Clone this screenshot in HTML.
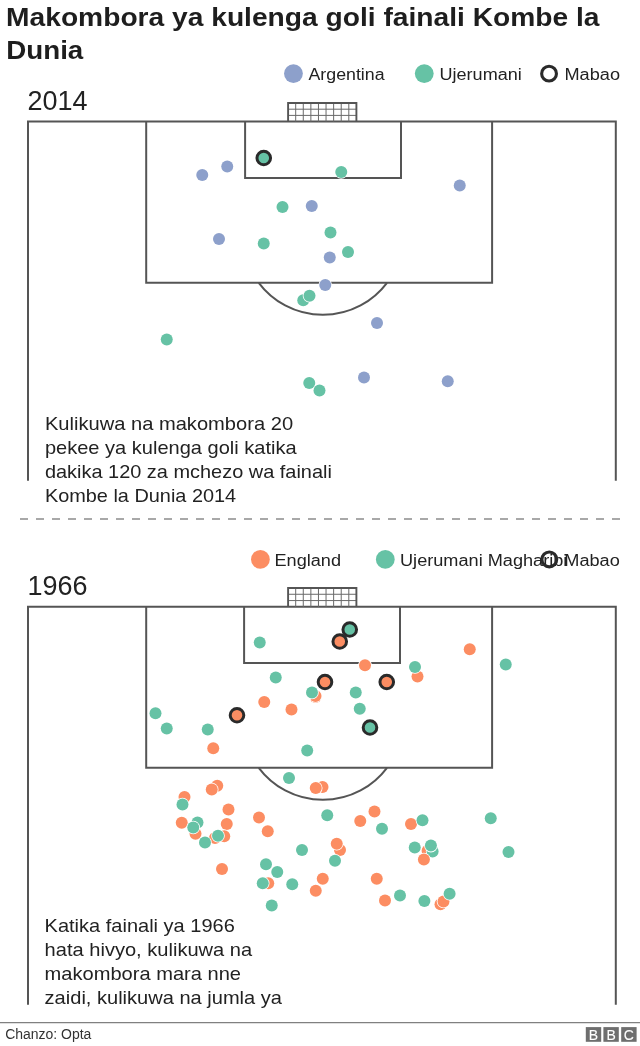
<!DOCTYPE html>
<html lang="sw"><head><meta charset="utf-8"><title>Makombora ya kulenga goli fainali Kombe la Dunia</title>
<style>
html,body{margin:0;padding:0;background:#fff}
svg{display:block}
text{font-family:"Liberation Sans",sans-serif}
</style></head><body>
<svg width="640" height="1046" viewBox="0 0 640 1046">
<rect width="640" height="1046" fill="#fff"/>
<text x="6.1" y="25.9" font-size="26.5" font-weight="bold" fill="#1e1e1e" textLength="593.4" lengthAdjust="spacingAndGlyphs">Makombora ya kulenga goli fainali Kombe la</text>
<text x="6.2" y="59.4" font-size="26.5" font-weight="bold" fill="#1e1e1e" textLength="77.1" lengthAdjust="spacingAndGlyphs">Dunia</text>
<circle cx="293.45" cy="73.6" r="9.4" fill="#8da0cb"/>
<text x="308.5" y="80" font-size="17.3" font-weight="normal" fill="#222222" textLength="76.1" lengthAdjust="spacingAndGlyphs">Argentina</text>
<circle cx="424.25" cy="73.6" r="9.4" fill="#66c2a5"/>
<text x="439.5" y="80" font-size="17.3" font-weight="normal" fill="#222222" textLength="82.3" lengthAdjust="spacingAndGlyphs">Ujerumani</text>
<circle cx="549.05" cy="73.65" r="7.4" fill="none" stroke="#2a2a2a" stroke-width="3.1"/>
<text x="564.5" y="80" font-size="17.3" font-weight="normal" fill="#222222" textLength="55.5" lengthAdjust="spacingAndGlyphs">Mabao</text>
<text x="27.5" y="109.7" font-size="27" font-weight="normal" fill="#222222" textLength="60" lengthAdjust="spacingAndGlyphs">2014</text>
<g fill="none" stroke="#555555" stroke-width="2">
<path d="M28 480.7 V121.6 H615.8 V480.7"/>
<path d="M146.2 121.6 V282.8 H492.1 V121.6"/>
<path d="M245.1 121.6 V177.9 H401 V121.6"/>
<path d="M258.75 282.8 A80.2 80.2 0 0 0 387 282.8"/>
</g>
<g fill="none" stroke="#6a6a6a" stroke-width="1">
<path d="M295.69 103.0 V121.6"/>
<path d="M303.28 103.0 V121.6"/>
<path d="M310.87 103.0 V121.6"/>
<path d="M318.46 103.0 V121.6"/>
<path d="M326.04 103.0 V121.6"/>
<path d="M333.63 103.0 V121.6"/>
<path d="M341.22 103.0 V121.6"/>
<path d="M348.81 103.0 V121.6"/>
<path d="M288.1 109.20 H356.4"/>
<path d="M288.1 115.40 H356.4"/>
</g>
<path d="M288.1 121.6 V103.0 H356.4 V121.6" fill="none" stroke="#555555" stroke-width="1.9"/>
<circle cx="202.25" cy="175" r="6" fill="#8da0cb" stroke="#fff" stroke-width="1.6" paint-order="stroke"/>
<circle cx="227.25" cy="166.5" r="6" fill="#8da0cb" stroke="#fff" stroke-width="1.6" paint-order="stroke"/>
<circle cx="219" cy="239" r="6" fill="#8da0cb" stroke="#fff" stroke-width="1.6" paint-order="stroke"/>
<circle cx="311.75" cy="206" r="6" fill="#8da0cb" stroke="#fff" stroke-width="1.6" paint-order="stroke"/>
<circle cx="329.75" cy="257.5" r="6" fill="#8da0cb" stroke="#fff" stroke-width="1.6" paint-order="stroke"/>
<circle cx="459.75" cy="185.5" r="6" fill="#8da0cb" stroke="#fff" stroke-width="1.6" paint-order="stroke"/>
<circle cx="377" cy="323" r="6" fill="#8da0cb" stroke="#fff" stroke-width="1.6" paint-order="stroke"/>
<circle cx="364" cy="377.5" r="6" fill="#8da0cb" stroke="#fff" stroke-width="1.6" paint-order="stroke"/>
<circle cx="447.75" cy="381.25" r="6" fill="#8da0cb" stroke="#fff" stroke-width="1.6" paint-order="stroke"/>
<circle cx="282.5" cy="207" r="6" fill="#66c2a5" stroke="#fff" stroke-width="1.6" paint-order="stroke"/>
<circle cx="263.75" cy="243.5" r="6" fill="#66c2a5" stroke="#fff" stroke-width="1.6" paint-order="stroke"/>
<circle cx="341.25" cy="172" r="6" fill="#66c2a5" stroke="#fff" stroke-width="1.6" paint-order="stroke"/>
<circle cx="330.5" cy="232.5" r="6" fill="#66c2a5" stroke="#fff" stroke-width="1.6" paint-order="stroke"/>
<circle cx="348" cy="252" r="6" fill="#66c2a5" stroke="#fff" stroke-width="1.6" paint-order="stroke"/>
<circle cx="303.25" cy="300.25" r="6" fill="#66c2a5" stroke="#fff" stroke-width="1.6" paint-order="stroke"/>
<circle cx="309.5" cy="295.75" r="6" fill="#66c2a5" stroke="#fff" stroke-width="1.6" paint-order="stroke"/>
<circle cx="325.25" cy="285" r="6" fill="#8da0cb" stroke="#fff" stroke-width="1.6" paint-order="stroke"/>
<circle cx="166.75" cy="339.5" r="6" fill="#66c2a5" stroke="#fff" stroke-width="1.6" paint-order="stroke"/>
<circle cx="309.25" cy="383" r="6" fill="#66c2a5" stroke="#fff" stroke-width="1.6" paint-order="stroke"/>
<circle cx="319.5" cy="390.5" r="6" fill="#66c2a5" stroke="#fff" stroke-width="1.6" paint-order="stroke"/>
<circle cx="263.75" cy="158" r="6.8" fill="#66c2a5" stroke="#2a2a2a" stroke-width="3"/>
<text x="44.9" y="429.5" font-size="19" font-weight="normal" fill="#222222" textLength="248.2" lengthAdjust="spacingAndGlyphs">Kulikuwa na makombora 20</text>
<text x="44.9" y="453.5" font-size="19" font-weight="normal" fill="#222222" textLength="251.8" lengthAdjust="spacingAndGlyphs">pekee ya kulenga goli katika</text>
<text x="44.9" y="477.5" font-size="19" font-weight="normal" fill="#222222" textLength="287" lengthAdjust="spacingAndGlyphs">dakika 120 za mchezo wa fainali</text>
<text x="44.9" y="501.5" font-size="19" font-weight="normal" fill="#222222" textLength="191.3" lengthAdjust="spacingAndGlyphs">Kombe la Dunia 2014</text>
<path d="M20 519 H620" stroke="#a8a8a8" stroke-width="2" stroke-dasharray="8 8" fill="none"/>
<circle cx="260.4" cy="559.45" r="9.4" fill="#fc8d62"/>
<text x="274.5" y="565.5" font-size="17.3" font-weight="normal" fill="#222222" textLength="66.5" lengthAdjust="spacingAndGlyphs">England</text>
<circle cx="385.3" cy="559.45" r="9.4" fill="#66c2a5"/>
<text x="400" y="565.5" font-size="17.3" font-weight="normal" fill="#222222" textLength="167.4" lengthAdjust="spacingAndGlyphs">Ujerumani Magharibi</text>
<circle cx="549.3" cy="559.45" r="7.4" fill="none" stroke="#2a2a2a" stroke-width="3.1"/>
<text x="564.3" y="565.5" font-size="17.3" font-weight="normal" fill="#222222" textLength="55.5" lengthAdjust="spacingAndGlyphs">Mabao</text>
<text x="27.5" y="595.3" font-size="27" font-weight="normal" fill="#222222" textLength="60" lengthAdjust="spacingAndGlyphs">1966</text>
<g fill="none" stroke="#555555" stroke-width="2">
<path d="M28 1004.7 V606.85 H615.8 V1004.7"/>
<path d="M146.2 606.85 V767.8 H492.1 V606.85"/>
<path d="M244.1 606.85 V662.9 H400 V606.85"/>
<path d="M258.75 767.8 A80.2 80.2 0 0 0 387 767.8"/>
</g>
<g fill="none" stroke="#6a6a6a" stroke-width="1">
<path d="M295.69 588.0 V606.85"/>
<path d="M303.28 588.0 V606.85"/>
<path d="M310.87 588.0 V606.85"/>
<path d="M318.46 588.0 V606.85"/>
<path d="M326.04 588.0 V606.85"/>
<path d="M333.63 588.0 V606.85"/>
<path d="M341.22 588.0 V606.85"/>
<path d="M348.81 588.0 V606.85"/>
<path d="M288.1 594.28 H356.4"/>
<path d="M288.1 600.57 H356.4"/>
</g>
<path d="M288.1 606.85 V588.0 H356.4 V606.85" fill="none" stroke="#555555" stroke-width="1.9"/>
<circle cx="259.75" cy="642.5" r="6" fill="#66c2a5" stroke="#fff" stroke-width="1.6" paint-order="stroke"/>
<circle cx="275.75" cy="677.5" r="6" fill="#66c2a5" stroke="#fff" stroke-width="1.6" paint-order="stroke"/>
<circle cx="264.25" cy="702" r="6" fill="#fc8d62" stroke="#fff" stroke-width="1.6" paint-order="stroke"/>
<circle cx="291.5" cy="709.5" r="6" fill="#fc8d62" stroke="#fff" stroke-width="1.6" paint-order="stroke"/>
<circle cx="155.5" cy="713.25" r="6" fill="#66c2a5" stroke="#fff" stroke-width="1.6" paint-order="stroke"/>
<circle cx="166.75" cy="728.5" r="6" fill="#66c2a5" stroke="#fff" stroke-width="1.6" paint-order="stroke"/>
<circle cx="207.75" cy="729.5" r="6" fill="#66c2a5" stroke="#fff" stroke-width="1.6" paint-order="stroke"/>
<circle cx="213.25" cy="748.25" r="6" fill="#fc8d62" stroke="#fff" stroke-width="1.6" paint-order="stroke"/>
<circle cx="365" cy="665.25" r="6" fill="#fc8d62" stroke="#fff" stroke-width="1.6" paint-order="stroke"/>
<circle cx="417.5" cy="676.5" r="6" fill="#fc8d62" stroke="#fff" stroke-width="1.6" paint-order="stroke"/>
<circle cx="415" cy="667" r="6" fill="#66c2a5" stroke="#fff" stroke-width="1.6" paint-order="stroke"/>
<circle cx="315.5" cy="697" r="6" fill="#fc8d62" stroke="#fff" stroke-width="1.6" paint-order="stroke"/>
<circle cx="315.5" cy="696" r="6" fill="#fc8d62" stroke="#fff" stroke-width="1.6" paint-order="stroke"/>
<circle cx="312" cy="692.5" r="6" fill="#66c2a5" stroke="#fff" stroke-width="1.6" paint-order="stroke"/>
<circle cx="355.75" cy="692.5" r="6" fill="#66c2a5" stroke="#fff" stroke-width="1.6" paint-order="stroke"/>
<circle cx="359.75" cy="708.75" r="6" fill="#66c2a5" stroke="#fff" stroke-width="1.6" paint-order="stroke"/>
<circle cx="307.2" cy="750.6" r="6" fill="#66c2a5" stroke="#fff" stroke-width="1.6" paint-order="stroke"/>
<circle cx="469.75" cy="649.25" r="6" fill="#fc8d62" stroke="#fff" stroke-width="1.6" paint-order="stroke"/>
<circle cx="505.75" cy="664.5" r="6" fill="#66c2a5" stroke="#fff" stroke-width="1.6" paint-order="stroke"/>
<circle cx="289" cy="778" r="6" fill="#66c2a5" stroke="#fff" stroke-width="1.6" paint-order="stroke"/>
<circle cx="217.25" cy="785.75" r="6" fill="#fc8d62" stroke="#fff" stroke-width="1.6" paint-order="stroke"/>
<circle cx="211.75" cy="789.5" r="6" fill="#fc8d62" stroke="#fff" stroke-width="1.6" paint-order="stroke"/>
<circle cx="184.5" cy="797" r="6" fill="#fc8d62" stroke="#fff" stroke-width="1.6" paint-order="stroke"/>
<circle cx="182.5" cy="804.5" r="6" fill="#66c2a5" stroke="#fff" stroke-width="1.6" paint-order="stroke"/>
<circle cx="228.5" cy="809.5" r="6" fill="#fc8d62" stroke="#fff" stroke-width="1.6" paint-order="stroke"/>
<circle cx="259" cy="817.5" r="6" fill="#fc8d62" stroke="#fff" stroke-width="1.6" paint-order="stroke"/>
<circle cx="181.75" cy="822.75" r="6" fill="#fc8d62" stroke="#fff" stroke-width="1.6" paint-order="stroke"/>
<circle cx="197.5" cy="822.5" r="6" fill="#66c2a5" stroke="#fff" stroke-width="1.6" paint-order="stroke"/>
<circle cx="195.5" cy="833.75" r="6" fill="#fc8d62" stroke="#fff" stroke-width="1.6" paint-order="stroke"/>
<circle cx="193.25" cy="827.5" r="6" fill="#66c2a5" stroke="#fff" stroke-width="1.6" paint-order="stroke"/>
<circle cx="226.75" cy="824" r="6" fill="#fc8d62" stroke="#fff" stroke-width="1.6" paint-order="stroke"/>
<circle cx="267.75" cy="831.25" r="6" fill="#fc8d62" stroke="#fff" stroke-width="1.6" paint-order="stroke"/>
<circle cx="224.25" cy="836.25" r="6" fill="#fc8d62" stroke="#fff" stroke-width="1.6" paint-order="stroke"/>
<circle cx="215" cy="838" r="6" fill="#fc8d62" stroke="#fff" stroke-width="1.6" paint-order="stroke"/>
<circle cx="218" cy="835.75" r="6" fill="#66c2a5" stroke="#fff" stroke-width="1.6" paint-order="stroke"/>
<circle cx="205" cy="842.5" r="6" fill="#66c2a5" stroke="#fff" stroke-width="1.6" paint-order="stroke"/>
<circle cx="222" cy="869" r="6" fill="#fc8d62" stroke="#fff" stroke-width="1.6" paint-order="stroke"/>
<circle cx="266" cy="864.25" r="6" fill="#66c2a5" stroke="#fff" stroke-width="1.6" paint-order="stroke"/>
<circle cx="277.25" cy="872" r="6" fill="#66c2a5" stroke="#fff" stroke-width="1.6" paint-order="stroke"/>
<circle cx="268.25" cy="883.25" r="6" fill="#fc8d62" stroke="#fff" stroke-width="1.6" paint-order="stroke"/>
<circle cx="262.75" cy="883.25" r="6" fill="#66c2a5" stroke="#fff" stroke-width="1.6" paint-order="stroke"/>
<circle cx="292.25" cy="884.25" r="6" fill="#66c2a5" stroke="#fff" stroke-width="1.6" paint-order="stroke"/>
<circle cx="271.75" cy="905.5" r="6" fill="#66c2a5" stroke="#fff" stroke-width="1.6" paint-order="stroke"/>
<circle cx="302" cy="850" r="6" fill="#66c2a5" stroke="#fff" stroke-width="1.6" paint-order="stroke"/>
<circle cx="322.5" cy="787" r="6" fill="#fc8d62" stroke="#fff" stroke-width="1.6" paint-order="stroke"/>
<circle cx="315.75" cy="788" r="6" fill="#fc8d62" stroke="#fff" stroke-width="1.6" paint-order="stroke"/>
<circle cx="327.25" cy="815.25" r="6" fill="#66c2a5" stroke="#fff" stroke-width="1.6" paint-order="stroke"/>
<circle cx="374.5" cy="811.5" r="6" fill="#fc8d62" stroke="#fff" stroke-width="1.6" paint-order="stroke"/>
<circle cx="360.25" cy="821" r="6" fill="#fc8d62" stroke="#fff" stroke-width="1.6" paint-order="stroke"/>
<circle cx="382" cy="828.75" r="6" fill="#66c2a5" stroke="#fff" stroke-width="1.6" paint-order="stroke"/>
<circle cx="411" cy="824" r="6" fill="#fc8d62" stroke="#fff" stroke-width="1.6" paint-order="stroke"/>
<circle cx="422.5" cy="820.25" r="6" fill="#66c2a5" stroke="#fff" stroke-width="1.6" paint-order="stroke"/>
<circle cx="340" cy="850" r="6" fill="#fc8d62" stroke="#fff" stroke-width="1.6" paint-order="stroke"/>
<circle cx="336.75" cy="843.75" r="6" fill="#fc8d62" stroke="#fff" stroke-width="1.6" paint-order="stroke"/>
<circle cx="335" cy="860.75" r="6" fill="#66c2a5" stroke="#fff" stroke-width="1.6" paint-order="stroke"/>
<circle cx="414.75" cy="847.5" r="6" fill="#66c2a5" stroke="#fff" stroke-width="1.6" paint-order="stroke"/>
<circle cx="427.6" cy="850.8" r="6" fill="#fc8d62" stroke="#fff" stroke-width="1.6" paint-order="stroke"/>
<circle cx="432.6" cy="851.5" r="6" fill="#66c2a5" stroke="#fff" stroke-width="1.6" paint-order="stroke"/>
<circle cx="430.9" cy="845.6" r="6" fill="#66c2a5" stroke="#fff" stroke-width="1.6" paint-order="stroke"/>
<circle cx="423.9" cy="859.5" r="6" fill="#fc8d62" stroke="#fff" stroke-width="1.6" paint-order="stroke"/>
<circle cx="322.75" cy="878.75" r="6" fill="#fc8d62" stroke="#fff" stroke-width="1.6" paint-order="stroke"/>
<circle cx="376.75" cy="878.75" r="6" fill="#fc8d62" stroke="#fff" stroke-width="1.6" paint-order="stroke"/>
<circle cx="315.75" cy="890.75" r="6" fill="#fc8d62" stroke="#fff" stroke-width="1.6" paint-order="stroke"/>
<circle cx="400" cy="895.6" r="6" fill="#66c2a5" stroke="#fff" stroke-width="1.6" paint-order="stroke"/>
<circle cx="385" cy="900.5" r="6" fill="#fc8d62" stroke="#fff" stroke-width="1.6" paint-order="stroke"/>
<circle cx="424.4" cy="901" r="6" fill="#66c2a5" stroke="#fff" stroke-width="1.6" paint-order="stroke"/>
<circle cx="440.5" cy="904.2" r="6" fill="#fc8d62" stroke="#fff" stroke-width="1.6" paint-order="stroke"/>
<circle cx="443.5" cy="901.5" r="6" fill="#fc8d62" stroke="#fff" stroke-width="1.6" paint-order="stroke"/>
<circle cx="449.6" cy="893.75" r="6" fill="#66c2a5" stroke="#fff" stroke-width="1.6" paint-order="stroke"/>
<circle cx="490.75" cy="818.25" r="6" fill="#66c2a5" stroke="#fff" stroke-width="1.6" paint-order="stroke"/>
<circle cx="508.5" cy="852" r="6" fill="#66c2a5" stroke="#fff" stroke-width="1.6" paint-order="stroke"/>
<circle cx="339.75" cy="641.5" r="6.8" fill="#fc8d62" stroke="#2a2a2a" stroke-width="3"/>
<circle cx="349.75" cy="629.5" r="6.8" fill="#66c2a5" stroke="#2a2a2a" stroke-width="3"/>
<circle cx="237" cy="715.25" r="6.8" fill="#fc8d62" stroke="#2a2a2a" stroke-width="3"/>
<circle cx="325" cy="682" r="6.8" fill="#fc8d62" stroke="#2a2a2a" stroke-width="3"/>
<circle cx="386.75" cy="682" r="6.8" fill="#fc8d62" stroke="#2a2a2a" stroke-width="3"/>
<circle cx="370" cy="727.5" r="6.8" fill="#66c2a5" stroke="#2a2a2a" stroke-width="3"/>
<text x="44.6" y="931.5" font-size="19" font-weight="normal" fill="#222222" textLength="190.2" lengthAdjust="spacingAndGlyphs">Katika fainali ya 1966</text>
<text x="44.6" y="955.5" font-size="19" font-weight="normal" fill="#222222" textLength="207.6" lengthAdjust="spacingAndGlyphs">hata hivyo, kulikuwa na</text>
<text x="44.6" y="979.5" font-size="19" font-weight="normal" fill="#222222" textLength="196.4" lengthAdjust="spacingAndGlyphs">makombora mara nne</text>
<text x="44.6" y="1003.5" font-size="19" font-weight="normal" fill="#222222" textLength="237.4" lengthAdjust="spacingAndGlyphs">zaidi, kulikuwa na jumla ya</text>
<path d="M0 1022.6 H640" stroke="#808080" stroke-width="1.2" fill="none"/>
<text x="5.2" y="1039.3" font-size="14" font-weight="normal" fill="#333" textLength="86.2" lengthAdjust="spacingAndGlyphs">Chanzo: Opta</text>
<rect x="585.8" y="1027.1" width="15.4" height="14.7" fill="#6e6e6e"/>
<text x="593.5" y="1039.5" font-size="14" fill="#fff" stroke="#fff" stroke-width="0.1" text-anchor="middle">B</text>
<rect x="603.4" y="1027.1" width="15.4" height="14.7" fill="#6e6e6e"/>
<text x="611.1" y="1039.5" font-size="14" fill="#fff" stroke="#fff" stroke-width="0.1" text-anchor="middle">B</text>
<rect x="621.2" y="1027.1" width="15.4" height="14.7" fill="#6e6e6e"/>
<text x="628.9000000000001" y="1039.5" font-size="14" fill="#fff" stroke="#fff" stroke-width="0.1" text-anchor="middle">C</text>
</svg></body></html>
